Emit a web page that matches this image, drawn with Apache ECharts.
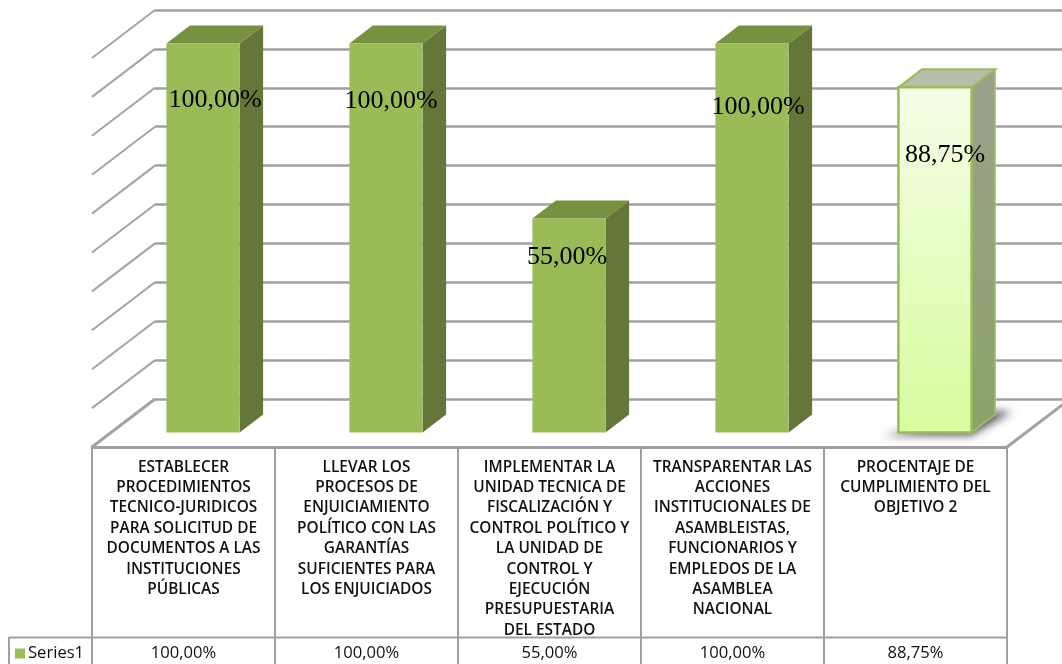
<!DOCTYPE html>
<html>
<head>
<meta charset="utf-8">
<style>html,body{margin:0;padding:0;background:#fff}#c{width:1062px;height:664px}</style>
<script src="https://cdn.jsdelivr.net/npm/echarts@6/dist/echarts.min.js"></script>
</head>
<body>
<div id="c"></div>
<script>
const categories = [
  "ESTABLECER\nPROCEDIMIENTOS\nTECNICO-JURIDICOS\nPARA SOLICITUD DE\nDOCUMENTOS A LAS\nINSTITUCIONES\nPÚBLICAS",
  "LLEVAR LOS\nPROCESOS DE\nENJUICIAMIENTO\nPOLÍTICO CON LAS\nGARANTÍAS\nSUFICIENTES PARA\nLOS ENJUICIADOS",
  "IMPLEMENTAR LA\nUNIDAD TECNICA DE\nFISCALIZACIÓN Y\nCONTROL POLÍTICO Y\nLA UNIDAD DE\nCONTROL Y\nEJECUCIÓN\nPRESUPUESTARIA\nDEL ESTADO",
  "TRANSPARENTAR LAS\nACCIONES\nINSTITUCIONALES DE\nASAMBLEISTAS,\nFUNCIONARIOS Y\nEMPLEDOS DE LA\nASAMBLEA\nNACIONAL",
  "PROCENTAJE DE\nCUMPLIMIENTO DEL\nOBJETIVO 2"
];
const seriesValues = [100, 100, 55, 100, 88.75];
const wallTicks = [0, 10, 20, 30, 40, 50, 60, 70, 80, 90, 100];
const seriesName = "Series1";

// depth of the 3D box, in pixels (back wall -> front edge of floor)
const FLOOR_DX = -63, FLOOR_DY = 48;
const BAR_FRONT = { dx: -43.5, dy: 33.5 };
const BAR_DEPTH = { dx: 23.5, dy: -18 };
const BAR_RATIO = 0.4;
const labelNudge = [[12, 56.5], [5, 57.5], [-2, 38.5], [6, 63.5], [10, 67.5]];
const highlighted = 4;

const fmt = v => v.toFixed(2).replace(".", ",") + "%";
const fill = (a, b) => ({ type: "linear", x: 0, y: 0, x2: 0, y2: 1, colorStops: [{ offset: 0, color: a }, { offset: 1, color: b }] });

function renderBar(params, api) {
  const i = api.value(0), v = api.value(1);
  const top = api.coord([i, v]), base = api.coord([i, 0]);
  const w = api.size([1, 0])[0] * BAR_RATIO;
  const x0 = top[0] + BAR_FRONT.dx - w / 2, x1 = x0 + w;
  const yT = top[1] + BAR_FRONT.dy, yB = base[1] + BAR_FRONT.dy;
  const dx = BAR_DEPTH.dx, dy = BAR_DEPTH.dy;
  const hi = i === highlighted;
  const children = [];
  if (hi) {
    // soft cast shadow: the polygon itself sits off-canvas, only its blur lands on the floor
    const off = 3000;
    children.push({
      type: "polygon",
      shape: { points: [[x0 - 15 - off, yB + 3], [x1 - off, yB + 3], [x1 + dx + 17 - off, yB + dy - 3], [x1 + 20 - off, yB + dy - 3]] },
      style: { fill: "#303030", shadowBlur: 8, shadowColor: "rgba(60,60,60,0.85)", shadowOffsetX: off }
    });
  }
  children.push({
    type: "polygon",
    shape: { points: [[x1, yT], [x1 + dx, yT + dy], [x1 + dx, yB + dy], [x1, yB]] },
    style: hi ? { fill: fill("#9ba08c", "#8ca36a"), stroke: "#a3c560", lineWidth: 1.5 } : { fill: "#64763a" }
  });
  children.push({
    type: "polygon",
    shape: { points: [[x0, yT], [x0 + dx, yT + dy], [x1 + dx, yT + dy], [x1, yT]] },
    style: hi ? { fill: "#b5bea8", stroke: "#9bbb59", lineWidth: 2 } : { fill: "#76913f" }
  });
  children.push({
    type: "rect",
    shape: { x: x0, y: yT, width: w, height: yB - yT },
    style: hi ? { fill: fill("#f4fee6", "#d8fc9e"), stroke: "#9bbb59", lineWidth: 2.5 } : { fill: "#9bbb59" }
  });
  const n = labelNudge[i];
  children.push({
    type: "text",
    z2: 10,
    style: {
      x: x0 + w / 2 + n[0], y: yT + n[1], text: fmt(v),
      fill: "#000", font: '26px "Liberation Serif"', align: "center", verticalAlign: "middle"
    }
  });
  return { type: "group", children };
}

function renderWall(params, api) {
  const v = api.value(1);
  const p = api.coord([0, v]);
  const x = p[0] - api.size([1, 0])[0] / 2;
  return {
    type: "line",
    shape: { x1: x, y1: p[1], x2: x + FLOOR_DX, y2: p[1] + FLOOR_DY },
    style: { stroke: "#a3a3a3", lineWidth: v === 0 ? 3 : 2 }
  };
}

function renderRightEdge(params, api) {
  const p = api.coord([categories.length - 1, 0]);
  const x = p[0] + api.size([1, 0])[0] / 2;
  return {
    type: "line",
    shape: { x1: x, y1: p[1], x2: x + FLOOR_DX, y2: p[1] + FLOOR_DY },
    style: { stroke: "#a3a3a3", lineWidth: 3 }
  };
}

const lineCol = "#a0a0a0";
const chart = echarts.init(document.getElementById("c"), null, { renderer: "canvas" });
chart.setOption({
  animation: false,
  backgroundColor: "#fff",
  grid: [
    { left: 155, width: 915, top: 10, height: 389, outerBoundsMode: "none" },
    { left: 92, right: 55, top: 58, height: 389, outerBoundsMode: "none" }
  ],
  xAxis: [
    { gridIndex: 0, type: "category", data: categories, show: false },
    {
      gridIndex: 1, type: "category", data: categories, position: "bottom",
      axisLine: { show: true, lineStyle: { color: lineCol, width: 3 } },
      axisTick: { show: true, interval: 0, length: 217, lineStyle: { color: lineCol, width: 2 } },
      axisLabel: {
        interval: 0, margin: 10, verticalAlign: "top", lineHeight: 20.4, color: "#111",
        fontFamily: "Open Sans", fontWeight: 600, fontSize: 15.4
      }
    },
    {
      gridIndex: 1, type: "category", data: seriesValues.map(fmt), position: "bottom",
      axisLine: { show: false }, axisTick: { show: false },
      axisLabel: { interval: 0, margin: 198, verticalAlign: "top", color: "#111", fontFamily: "Open Sans", fontSize: 16.6 }
    }
  ],
  yAxis: [
    {
      gridIndex: 0, type: "value", min: 0, max: 100, interval: 10,
      axisLine: { show: false }, axisTick: { show: false }, axisLabel: { show: false },
      splitLine: { show: true, lineStyle: { color: lineCol, width: 2.5 } }
    },
    { gridIndex: 1, type: "value", min: 0, max: 100, show: false, splitLine: { show: false } }
  ],
  legend: {
    data: [seriesName], left: 15, top: 645, padding: 0, itemWidth: 10, itemHeight: 10, itemGap: 3,
    icon: "rect", textStyle: { color: "#111", fontFamily: "Open Sans", fontSize: 16.6, padding: [0, 0, 0, -2] }
  },
  graphic: [
    { type: "line", silent: true, shape: { x1: 9, y1: 637.5, x2: 1007, y2: 637.5 }, style: { stroke: lineCol, lineWidth: 2 } },
    { type: "line", silent: true, shape: { x1: 9, y1: 637, x2: 9, y2: 664 }, style: { stroke: lineCol, lineWidth: 2 } }
  ],
  series: [
    {
      name: "walls", type: "custom", xAxisIndex: 0, yAxisIndex: 0, silent: true, z: 1,
      data: wallTicks.map(t => [0, t]), renderItem: renderWall, encode: { x: 0, y: 1 }
    },
    {
      name: "floorEdge", type: "custom", xAxisIndex: 0, yAxisIndex: 0, silent: true, z: 1,
      data: [[0, 0]], renderItem: renderRightEdge, encode: { x: 0, y: 1 }
    },
    {
      name: seriesName, type: "custom", xAxisIndex: 0, yAxisIndex: 0, z: 3,
      itemStyle: { color: "#9bbb59" },
      data: seriesValues.map((v, i) => [i, v]), renderItem: renderBar, encode: { x: 0, y: 1 }
    }
  ]
});
</script>
</body>
</html>
